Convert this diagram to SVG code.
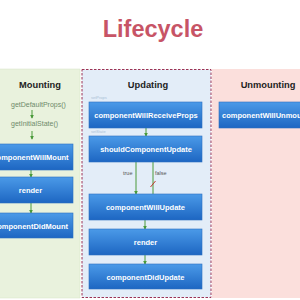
<svg xmlns="http://www.w3.org/2000/svg" width="300" height="300" viewBox="0 0 300 300">
<defs>
<linearGradient id="bg" x1="0" y1="0" x2="0" y2="1">
<stop offset="0" stop-color="#4b9ae8"/>
<stop offset="1" stop-color="#1d66c2"/>
</linearGradient>
<marker id="ah" viewBox="0 0 6 6" refX="5" refY="3" markerWidth="4" markerHeight="4" orient="auto">
<path d="M0,0 L6,3 L0,6 z" fill="#4a9a3a"/>
</marker>
<style>
.box{fill:url(#bg);stroke:#2c6fbf;stroke-width:0.6}
.bt{font-family:"Liberation Sans",Arial,sans-serif;font-weight:bold;font-size:7.5px;fill:#ffffff;text-anchor:middle}
.hd{font-family:"Liberation Sans",Arial,sans-serif;font-weight:bold;font-size:9.3px;fill:#222;text-anchor:middle}
.gt{font-family:"Liberation Sans",Arial,sans-serif;font-size:7px;fill:#6f8a6a}
.tiny{font-family:"Liberation Sans",Arial,sans-serif;font-size:4px;fill:#a9bfd6}
.lb{font-family:"Liberation Sans",Arial,sans-serif;font-size:5.5px;fill:#555}
.ar{stroke:#4a9a3a;stroke-width:1;fill:none;marker-end:url(#ah)}
.ln{stroke:#4a9a3a;stroke-width:1;fill:none}
</style>
</defs>
<rect width="300" height="300" fill="#ffffff"/>
<text x="153" y="37" font-family="'Liberation Sans',Arial,sans-serif" font-weight="bold" font-size="23.5" fill="#c75466" text-anchor="middle">Lifecycle</text>

<g id="panel-mounting">
<rect x="-2" y="69" width="82" height="229" fill="#e9f2dd" stroke="#d6e4c6" stroke-width="0.5"/>
<text class="hd" x="40" y="88">Mounting</text>
<text class="gt" x="11" y="107">getDefaultProps()</text>
<text class="gt" x="11" y="126">getInitialState()</text>
</g>
<g id="panel-updating">
<rect x="82" y="69.5" width="129" height="228" fill="#e3edf8" stroke="#9c3355" stroke-width="1" stroke-dasharray="2.5,1.5"/>
<text class="hd" x="148" y="88">Updating</text>
<text class="tiny" x="91" y="99">setProps</text>
<text class="tiny" x="91" y="133">setState</text>
</g>
<g id="panel-unmounting">
<rect x="212" y="69" width="92" height="229" fill="#fbdfdc"/>
<text class="hd" x="268" y="88">Unmounting</text>
</g>

<g id="connectors">
<line class="ar" x1="32" y1="110" x2="32" y2="118"/>
<line class="ar" x1="32" y1="131" x2="32" y2="139"/>
<line class="ar" x1="31" y1="170" x2="31" y2="177"/>
<line class="ar" x1="31" y1="203" x2="31" y2="213"/>
<line class="ar" x1="146" y1="128" x2="146" y2="136"/>
<line class="ar" x1="136" y1="162" x2="136" y2="194"/>
<line class="ln" x1="153" y1="162" x2="153" y2="194"/>
<line x1="150.5" y1="187" x2="155.5" y2="181" stroke="#c0392b" stroke-width="1"/>
<text class="lb" x="123" y="175">true</text>
<text class="lb" x="155" y="175">false</text>
<line class="ar" x1="145" y1="220" x2="145" y2="229"/>
<line class="ar" x1="145" y1="255" x2="145" y2="264"/>
</g>

<g id="componentWillMount"><rect class="box" x="-12" y="144" width="85" height="26"/><text class="bt" x="30.5" y="160">componentWillMount</text></g>
<g id="render-mount"><rect class="box" x="-12" y="177" width="85" height="26"/><text class="bt" x="30.5" y="193">render</text></g>
<g id="componentDidMount"><rect class="box" x="-12" y="213" width="85" height="25"/><text class="bt" x="30.5" y="228.5">componentDidMount</text></g>

<g id="componentWillReceiveProps"><rect class="box" x="89" y="102" width="113" height="26"/><text class="bt" x="146" y="118">componentWillReceiveProps</text></g>
<g id="shouldComponentUpdate"><rect class="box" x="89" y="136" width="113" height="26"/><text class="bt" x="146" y="152">shouldComponentUpdate</text></g>
<g id="componentWillUpdate"><rect class="box" x="89" y="194" width="113" height="26"/><text class="bt" x="145.5" y="210">componentWillUpdate</text></g>
<g id="render-update"><rect class="box" x="89" y="229" width="113" height="26"/><text class="bt" x="145.5" y="245">render</text></g>
<g id="componentDidUpdate"><rect class="box" x="89" y="264" width="113" height="25"/><text class="bt" x="145.5" y="279.5">componentDidUpdate</text></g>

<g id="componentWillUnmount"><rect class="box" x="219" y="102" width="100" height="26"/><text class="bt" x="222" y="118" text-anchor="start" style="text-anchor:start">componentWillUnmount</text></g>
</svg>
